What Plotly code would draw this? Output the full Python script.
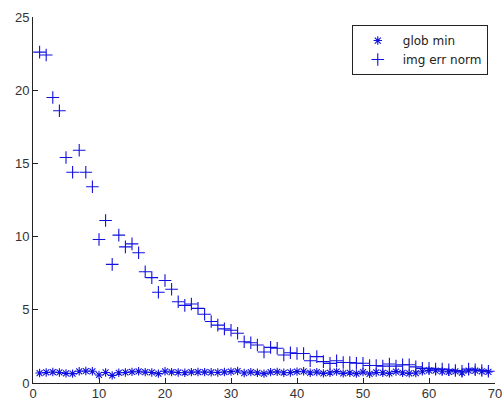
import plotly.graph_objects as go

# iteration index
iterations = list(range(1, 70))

# global minimum found at each iteration
glob_min = [
    0.68, 0.72, 0.75, 0.72, 0.66, 0.64, 0.80, 0.82, 0.80, 0.55,
    0.72, 0.52, 0.70, 0.72, 0.76, 0.80, 0.74, 0.72, 0.64, 0.80,
    0.74, 0.72, 0.70, 0.74, 0.75, 0.74, 0.73, 0.72, 0.75, 0.78,
    0.82, 0.68, 0.74, 0.70, 0.64, 0.74, 0.76, 0.70, 0.72, 0.78,
    0.80, 0.70, 0.74, 0.66, 0.70, 0.78, 0.66, 0.70, 0.64, 0.74,
    0.62, 0.72, 0.70, 0.66, 0.78, 0.70, 0.66, 0.68, 0.80, 0.86,
    0.84, 0.80, 0.76, 0.80, 0.70, 0.84, 0.84, 0.80, 0.76,
]

# image error norm at each iteration
img_err_norm = [
    22.6, 22.4, 19.5, 18.6, 15.4, 14.4, 15.9, 14.4, 13.4, 9.8,
    11.1, 8.1, 10.1, 9.3, 9.5, 8.9, 7.6, 7.2, 6.2, 7.0,
    6.4, 5.55, 5.3, 5.4, 5.1, 4.7, 4.2, 3.95, 3.7, 3.6,
    3.4, 2.82, 2.75, 2.6, 2.12, 2.43, 2.37, 1.91, 2.07, 2.02,
    2.02, 1.52, 1.8, 1.46, 1.34, 1.52, 1.4, 1.4, 1.35, 1.35,
    1.2, 1.2, 1.15, 1.3, 1.15, 1.25, 1.25, 1.1, 1.0, 1.0,
    0.95, 0.95, 0.9, 0.85, 0.8, 0.95, 0.9, 0.85, 0.8,
]

x_ticks = [0, 10, 20, 30, 40, 50, 60, 70]
y_ticks = [0, 5, 10, 15, 20, 25]

BLUE = "#1010e0"

fig = go.Figure()
fig.add_trace(go.Scatter(
    x=iterations, y=glob_min, mode="markers", name="glob min",
    marker=dict(symbol="asterisk-open", size=7, color=BLUE,
                line=dict(color=BLUE, width=1.1)),
))
fig.add_trace(go.Scatter(
    x=iterations, y=img_err_norm, mode="markers", name="img err norm",
    marker=dict(symbol="cross-thin-open", size=9, color=BLUE,
                line=dict(color=BLUE, width=1.1)),
))

axis_common = dict(
    showgrid=False, zeroline=False, showline=True, linecolor="#222222",
    linewidth=1, ticks="inside", ticklen=5, tickcolor="#222222",
    tickfont=dict(family="Liberation Sans, Arial, sans-serif", size=13,
                  color="#333333"),
    mirror=False, automargin=False, ticklabeloverflow="allow",
)

fig.update_layout(
    width=504, height=401,
    margin=dict(l=33, r=9, t=17, b=18),
    paper_bgcolor="white", plot_bgcolor="white",
    xaxis=dict(range=[0, 70], tickvals=x_ticks, ticklabelstandoff=-2,
               **axis_common),
    yaxis=dict(range=[0, 25], tickvals=y_ticks, **axis_common),
    legend=dict(
        x=0.69, y=0.978, xanchor="left", yanchor="top",
        bgcolor="white", bordercolor="#222222", borderwidth=1,
        font=dict(family="DejaVu Sans, sans-serif", size=12,
                  color="#222222"),
        itemwidth=40, tracegroupgap=0,
    ),
    showlegend=True,
)

fig.write_html("out.html")
